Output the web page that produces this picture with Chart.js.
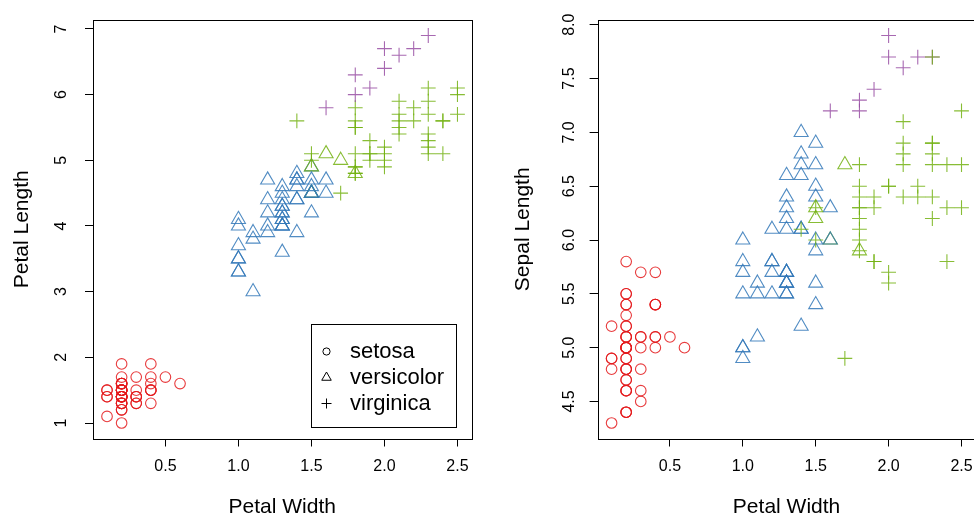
<!DOCTYPE html>
<html><head><meta charset="utf-8">
<script src="https://cdn.jsdelivr.net/npm/chart.js@4.4.1/dist/chart.umd.min.js"></script>
<style>
html,body{margin:0;padding:0;background:#fff;}
#wrap{position:relative;width:974px;height:519px;overflow:hidden;background:#fff;}
#c1{position:absolute;left:0;top:0;}
#c2{position:absolute;left:487px;top:0;}
</style></head><body>
<div id="wrap"><canvas id="c1" width="487" height="519"></canvas><canvas id="c2" width="520" height="519"></canvas></div>
<script>
const speciesNames = ['setosa', 'versicolor', 'virginica'];

const sepalLength = [
5.1,4.9,4.7,4.6,5.0,5.4,4.6,5.0,4.4,4.9, 5.4,4.8,4.8,4.3,5.8,5.7,5.4,5.1,5.7,5.1,
5.4,5.1,4.6,5.1,4.8,5.0,5.0,5.2,5.2,4.7, 4.8,5.4,5.2,5.5,4.9,5.0,5.5,4.9,4.4,5.1,
5.0,4.5,4.4,5.0,5.1,4.8,5.1,4.6,5.3,5.0,
7.0,6.4,6.9,5.5,6.5,5.7,6.3,4.9,6.6,5.2, 5.0,5.9,6.0,6.1,5.6,6.7,5.6,5.8,6.2,5.6,
5.9,6.1,6.3,6.1,6.4,6.6,6.8,6.7,6.0,5.7, 5.5,5.5,5.8,6.0,5.4,6.0,6.7,6.3,5.6,5.5,
5.5,6.1,5.8,5.0,5.6,5.7,5.7,6.2,5.1,5.7,
6.3,5.8,7.1,6.3,6.5,7.6,4.9,7.3,6.7,7.2, 6.5,6.4,6.8,5.7,5.8,6.4,6.5,7.7,7.7,6.0,
6.9,5.6,7.7,6.3,6.7,7.2,6.2,6.1,6.4,7.2, 7.4,7.9,6.4,6.3,6.1,7.7,6.3,6.4,6.0,6.9,
6.7,6.9,5.8,6.8,6.7,6.7,6.3,6.5,6.2,5.9];

const petalLength = [
1.4,1.4,1.3,1.5,1.4,1.7,1.4,1.5,1.4,1.5, 1.5,1.6,1.4,1.1,1.2,1.5,1.3,1.4,1.7,1.5,
1.7,1.5,1.0,1.7,1.9,1.6,1.6,1.5,1.4,1.6, 1.6,1.5,1.5,1.4,1.5,1.2,1.3,1.4,1.3,1.5,
1.3,1.3,1.3,1.6,1.9,1.4,1.6,1.4,1.5,1.4,
4.7,4.5,4.9,4.0,4.6,4.5,4.7,3.3,4.6,3.9, 3.5,4.2,4.0,4.7,3.6,4.4,4.5,4.1,4.5,3.9,
4.8,4.0,4.9,4.7,4.3,4.4,4.8,5.0,4.5,3.5, 3.8,3.7,3.9,5.1,4.5,4.5,4.7,4.4,4.1,4.0,
4.4,4.6,4.0,3.3,4.2,4.2,4.2,4.3,3.0,4.1,
6.0,5.1,5.9,5.6,5.8,6.6,4.5,6.3,5.8,6.1, 5.1,5.3,5.5,5.0,5.1,5.3,5.5,6.7,6.9,5.0,
5.7,4.9,6.7,4.9,5.7,6.0,4.8,4.9,5.6,5.8, 6.1,6.4,5.6,5.1,5.6,6.1,5.6,5.5,4.8,5.4,
5.6,5.1,5.1,5.9,5.7,5.2,5.0,5.2,5.4,5.1];

const petalWidth = [
0.2,0.2,0.2,0.2,0.2,0.4,0.3,0.2,0.2,0.1, 0.2,0.2,0.1,0.1,0.2,0.4,0.4,0.3,0.3,0.3,
0.2,0.4,0.2,0.5,0.2,0.2,0.4,0.2,0.2,0.2, 0.2,0.4,0.1,0.2,0.2,0.2,0.2,0.1,0.2,0.2,
0.3,0.3,0.2,0.6,0.4,0.3,0.2,0.2,0.2,0.2,
1.4,1.5,1.5,1.3,1.5,1.3,1.6,1.0,1.3,1.4, 1.0,1.5,1.0,1.4,1.3,1.4,1.5,1.0,1.5,1.1,
1.8,1.3,1.5,1.2,1.3,1.4,1.4,1.7,1.5,1.0, 1.1,1.0,1.2,1.6,1.5,1.6,1.5,1.3,1.3,1.3,
1.2,1.4,1.2,1.0,1.3,1.2,1.3,1.3,1.1,1.3,
2.5,1.9,2.1,1.8,2.2,2.1,1.7,1.8,1.8,2.5, 2.0,1.9,2.1,2.0,2.4,2.3,1.8,2.2,2.3,1.5,
2.3,2.0,2.0,1.8,2.1,1.8,1.8,1.8,2.1,1.6, 1.9,2.0,2.2,1.5,1.4,2.3,2.4,1.8,1.8,2.1,
2.4,2.3,1.9,2.3,2.5,2.3,1.9,2.0,2.3,1.8];

// 0 = setosa, 1 = versicolor, 2 = virginica
const species = [
0,0,0,0,0,0,0,0,0,0, 0,0,0,0,0,0,0,0,0,0, 0,0,0,0,0,0,0,0,0,0, 0,0,0,0,0,0,0,0,0,0, 0,0,0,0,0,0,0,0,0,0,
1,1,1,1,1,1,1,1,1,1, 1,1,1,1,1,1,1,1,1,1, 1,1,1,1,1,1,1,1,1,1, 1,1,1,1,1,1,1,1,1,1, 1,1,1,1,1,1,1,1,1,1,
2,2,2,2,2,2,2,2,2,2, 2,2,2,2,2,2,2,2,2,2, 2,2,2,2,2,2,2,2,2,2, 2,2,2,2,2,2,2,2,2,2, 2,2,2,2,2,2,2,2,2,2];

// cluster colour group of each flower (1 red, 2 blue, 3 green, 4 purple)
const cluster = [
1,1,1,1,1,1,1,1,1,1, 1,1,1,1,1,1,1,1,1,1, 1,1,1,1,1,1,1,1,1,1, 1,1,1,1,1,1,1,1,1,1, 1,1,1,1,1,1,1,1,1,1,
2,2,2,2,2,2,2,2,2,2, 2,2,2,2,2,2,2,2,3,2, 3,2,3,2,2,2,2,3,2,2, 2,2,2,3,2,2,2,2,2,2, 2,2,2,2,2,2,2,2,2,2,
3,3,3,3,3,4,3,4,3,3, 3,3,3,3,3,3,3,4,4,3, 3,3,4,3,3,4,3,3,3,4, 4,4,3,3,3,3,3,3,3,3, 3,3,3,3,3,3,3,3,3,3];

const xTicks = [0.5, 1.0, 1.5, 2.0, 2.5];
const petalLengthTicks = [1, 2, 3, 4, 5, 6, 7];
const sepalLengthTicks = [4.5, 5.0, 5.5, 6.0, 6.5, 7.0, 7.5, 8.0];

const clusterColors = ['rgba(228,26,28,0.85)', 'rgba(50,120,185,0.85)', 'rgba(115,178,18,0.85)', 'rgba(152,78,163,0.85)'];
const speciesStyles = ['circle', 'triangle', 'cross'];
const speciesRadius = [5.3, 8.1, 7.4];

const FONT = "'Liberation Sans', Arial, Helvetica, sans-serif";
Chart.defaults.font.family = FONT;
Chart.defaults.color = '#000';

const boxPlugin = {
  id: 'rbox',
  afterDraw(chart) {
    const a = chart.chartArea, ctx = chart.ctx;
    ctx.save();
    ctx.strokeStyle = '#000';
    ctx.lineWidth = 1;
    ctx.strokeRect(Math.round(a.left) + 0.5, Math.round(a.top) + 0.5, Math.round(a.right - a.left), Math.round(a.bottom - a.top));
    ctx.restore();
  }
};

const legendPlugin = {
  id: 'rlegend',
  afterDraw(chart) {
    const ctx = chart.ctx;
    ctx.save();
    ctx.strokeStyle = '#000';
    ctx.fillStyle = '#fff';
    ctx.lineWidth = 1;
    ctx.fillRect(311.5, 324.5, 145, 103);
    ctx.strokeRect(311.5, 324.5, 145, 103);
    const rows = [351.5, 377.5, 403.5];
    const sx = 326.5;
    ctx.lineWidth = 1;
    ctx.beginPath(); ctx.arc(sx, rows[0], 3.6, 0, Math.PI * 2); ctx.stroke();
    const r = 5.5;
    ctx.beginPath();
    ctx.moveTo(sx, rows[1] - r);
    ctx.lineTo(sx + r * Math.sin(2 * Math.PI / 3), rows[1] + r / 2);
    ctx.lineTo(sx - r * Math.sin(2 * Math.PI / 3), rows[1] + r / 2);
    ctx.closePath(); ctx.stroke();
    const c = 5;
    ctx.beginPath();
    ctx.moveTo(sx - c, rows[2]); ctx.lineTo(sx + c, rows[2]);
    ctx.moveTo(sx, rows[2] - c); ctx.lineTo(sx, rows[2] + c);
    ctx.stroke();
    ctx.fillStyle = '#000';
    ctx.font = '22px ' + FONT;
    ctx.textAlign = 'left';
    ctx.textBaseline = 'middle';
    speciesNames.forEach((n, i) => ctx.fillText(n, 350, rows[i]));
    ctx.restore();
  }
};

function makePanel(canvasId, yValues, yTicks, yFmt, yTitle, yMin, yMax, geo, extraPlugins) {
  const pts = petalWidth.map((x, i) => ({x: x, y: yValues[i]}));
  return new Chart(document.getElementById(canvasId), {
    type: 'scatter',
    data: {
      datasets: [{
        data: pts,
        pointStyle: species.map(s => speciesStyles[s]),
        pointRadius: species.map(s => speciesRadius[s]),
        pointBorderColor: cluster.map(c => clusterColors[c - 1]),
        pointBackgroundColor: 'rgba(0,0,0,0)',
        pointBorderWidth: 1.1,
        pointHoverRadius: species.map(s => speciesRadius[s])
      }]
    },
    options: {
      responsive: false,
      animation: false,
      events: [],
      devicePixelRatio: 1,
      layout: {padding: {left: 0, top: geo.top, right: geo.right, bottom: 0}},
      plugins: {legend: {display: false}, tooltip: {enabled: false}},
      scales: {
        x: {
          type: 'linear', position: 'bottom', min: 0.004, max: 2.596, bounds: 'data',
          afterBuildTicks: s => { s.ticks = xTicks.map(v => ({value: v})); },
          afterFit: s => { s.height = geo.xh; s.paddingLeft = 0; s.paddingRight = 0; s.paddingTop = 0; s.paddingBottom = 0; },
          grid: {drawOnChartArea: false, drawTicks: true, tickLength: 8, color: '#000', tickColor: '#000', lineWidth: 1},
          border: {display: false},
          ticks: {autoSkip: false, maxRotation: 0, minRotation: 0, padding: 10.5, font: {size: 16}, color: '#000',
                  callback: v => Number(v).toFixed(1)},
          title: {display: true, text: 'Petal Width', font: {size: 21, lineHeight: 1.1}, color: '#000', padding: {top: 0, bottom: 0}}
        },
        y: {
          type: 'linear', position: 'left', min: yMin, max: yMax, bounds: 'data',
          afterBuildTicks: s => { s.ticks = yTicks.map(v => ({value: v})); },
          afterFit: s => { s.width = geo.yw; s.paddingLeft = 0; s.paddingRight = 0; s.paddingTop = 0; s.paddingBottom = 0; },
          grid: {drawOnChartArea: false, drawTicks: true, tickLength: 8, color: '#000', tickColor: '#000', lineWidth: 1},
          border: {display: false},
          ticks: {autoSkip: false, minRotation: 90, maxRotation: 90, crossAlign: 'center', padding: geo.yp,
                  font: {size: 16}, color: '#000', callback: yFmt},
          title: {display: true, text: yTitle, font: {size: 21, lineHeight: 1.1}, color: '#000', padding: {top: geo.tp, bottom: 0}}
        }
      }
    },
    plugins: [boxPlugin].concat(extraPlugins)
  });
}

makePanel('c1', petalLength, petalLengthTicks, v => String(Number(v)), 'Petal Length', 0.764, 7.136,
  {top: 20, right: 15.5, xh: 80.5, yw: 93, yp: 18.5, tp: 10.5}, [legendPlugin]);
makePanel('c2', sepalLength, sepalLengthTicks, v => Number(v).toFixed(1), 'Sepal Length', 4.156, 8.044,
  {top: 20, right: 31.5, xh: 80.5, yw: 110.6, yp: 8.5, tp: 24.8}, []);
</script>
</body></html>
